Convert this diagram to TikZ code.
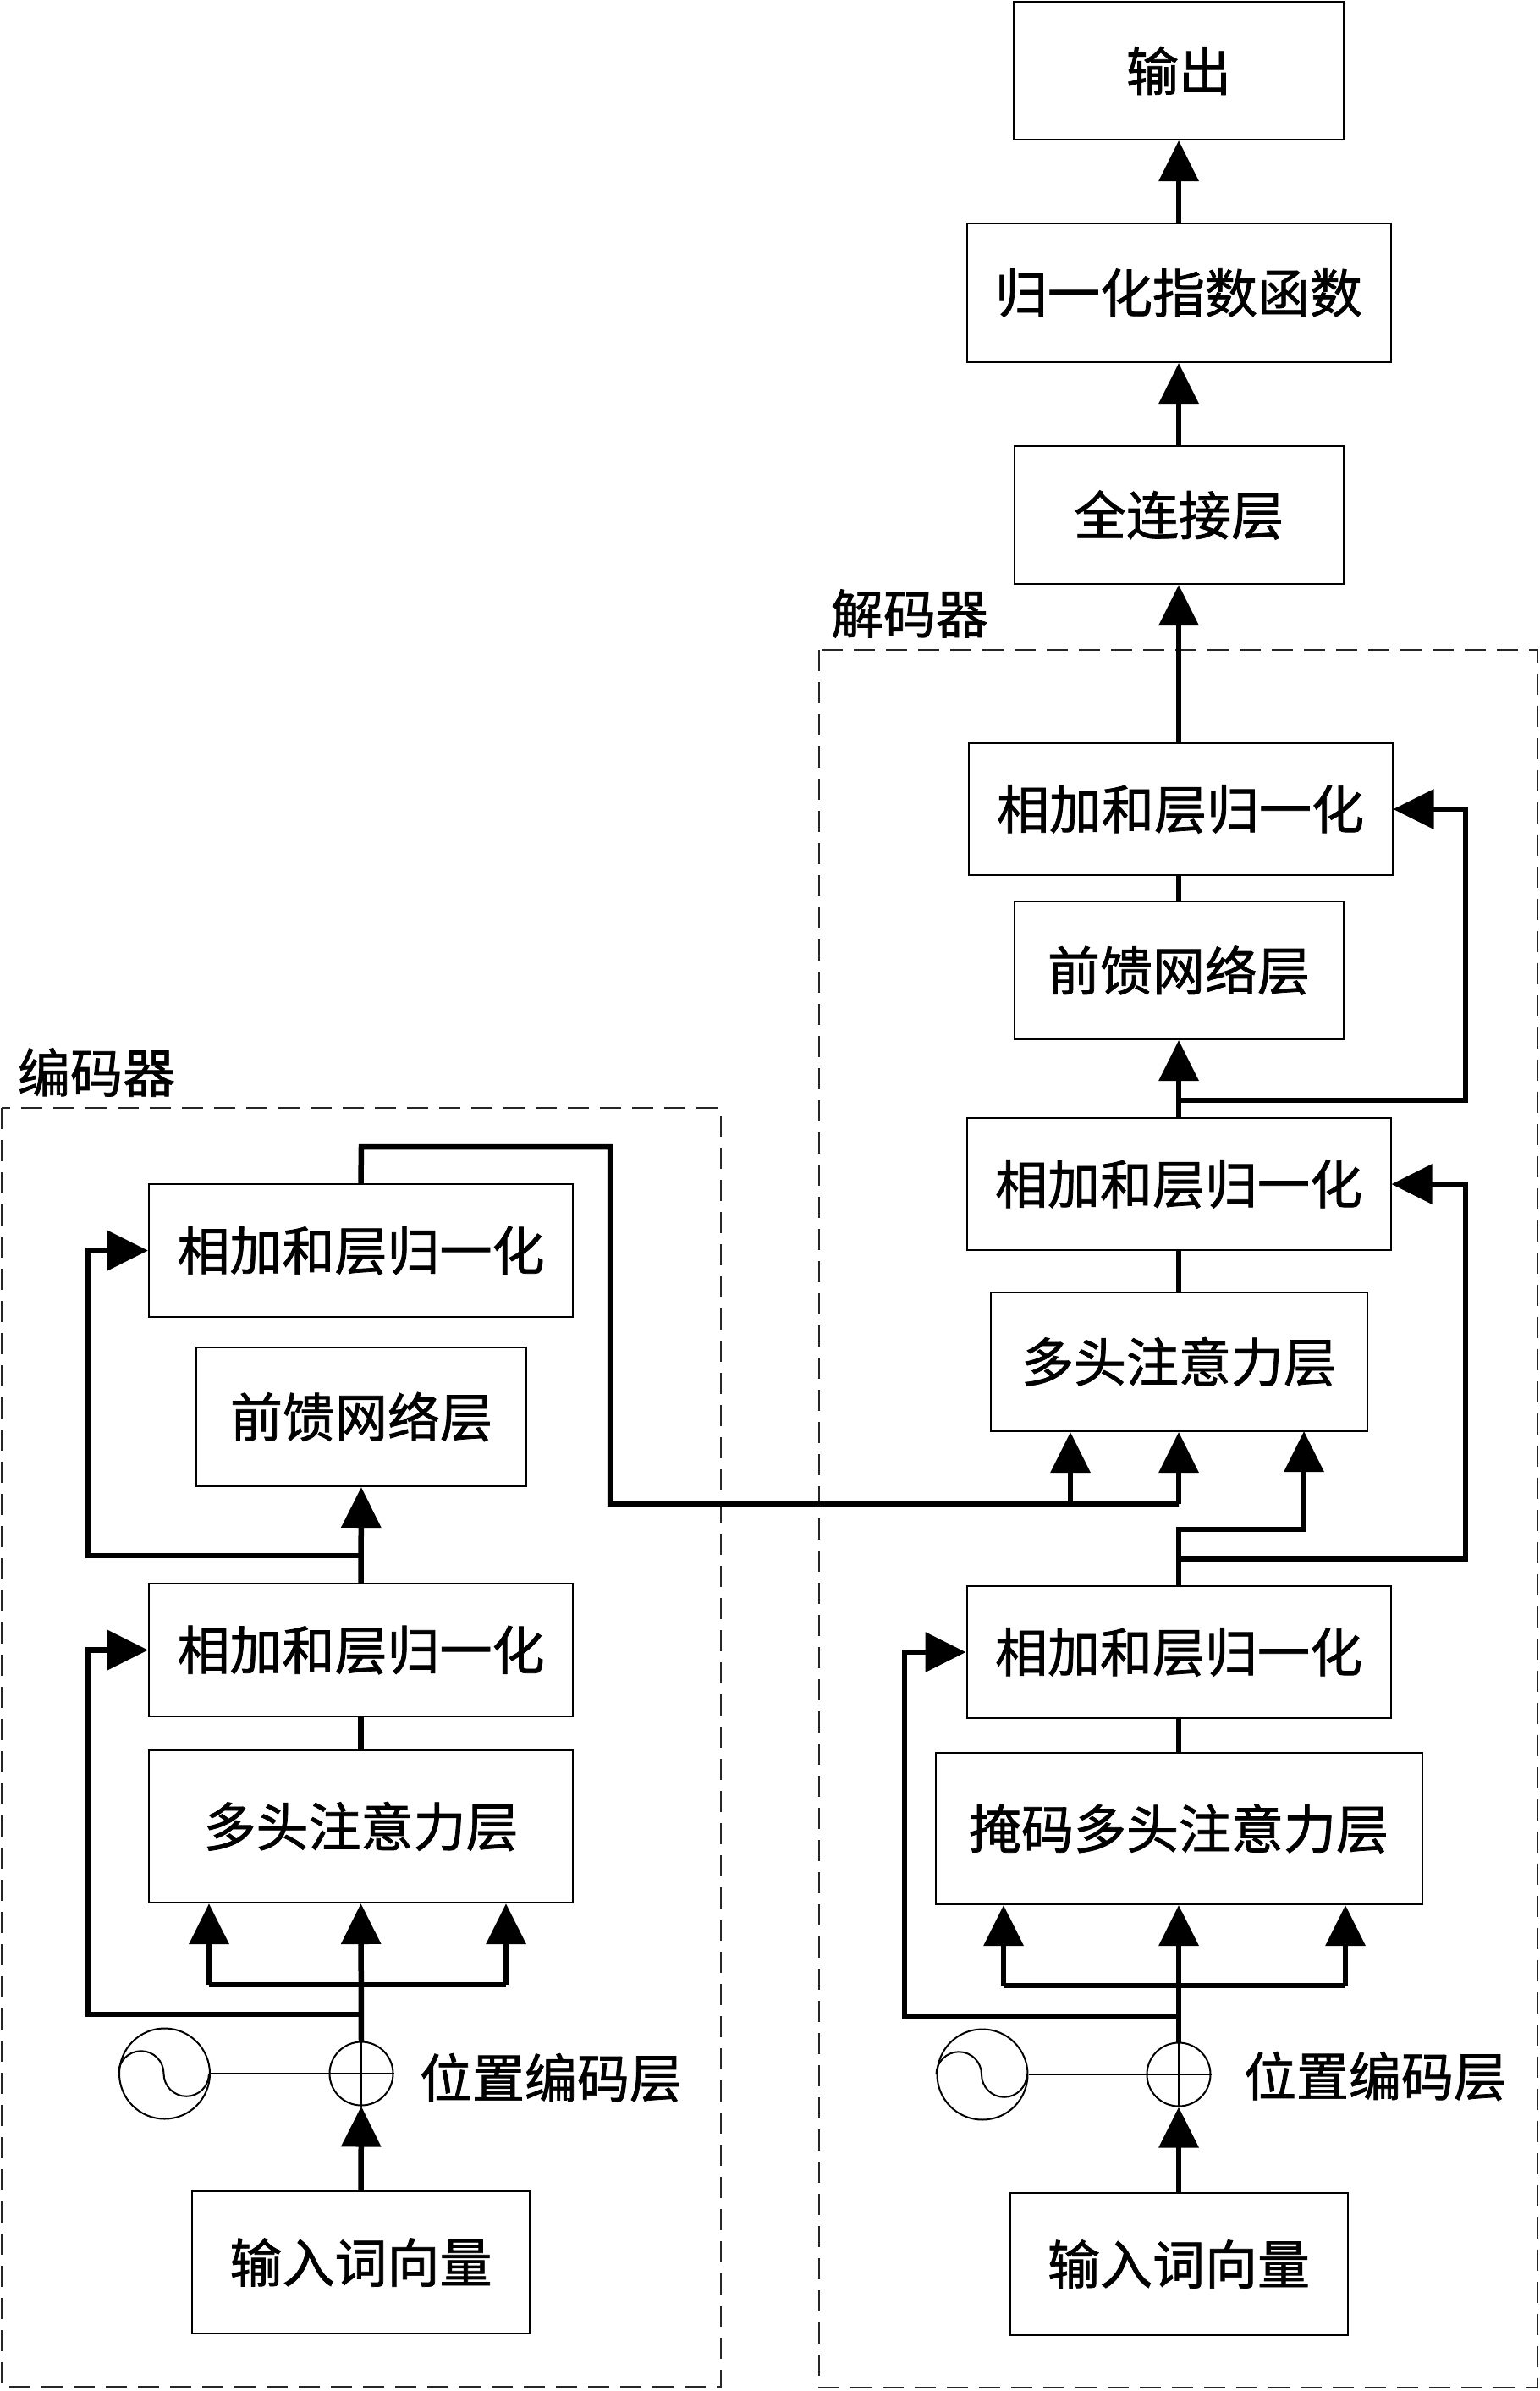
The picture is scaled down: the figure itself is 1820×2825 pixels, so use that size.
\documentclass[tikz,border=0pt]{standalone}
\usepackage{fontspec}
\newfontfamily\cjk[FakeBold=1.2]{Noto Sans CJK SC}
\usetikzlibrary{arrows.meta}
\begin{document}
\begin{tikzpicture}[x=1pt,y=-1pt,
  box/.style={draw=black, line width=2pt, fill=white, inner sep=0pt, font=\cjk\fontsize{62}{62}\selectfont},
  conn/.style={line width=6.5pt},
  arr/.style={conn, -{Triangle[length=48pt,width=46pt]}},
  thinline/.style={line width=2.6pt},
  ring/.style={circle, draw=black, line width=2pt, inner sep=0pt},
  lbl/.style={inner sep=0pt, font=\cjk\fontsize{62}{62}\selectfont},
  group/.style={dash pattern=on 25pt off 13pt, line width=2pt, draw=black!85}
]
\useasboundingbox (0,0) rectangle (1820,2825);

% groups
\draw[group] (2,1309) rectangle (852,2820);
\draw[group] (968,768) rectangle (1817,2821);
\node[lbl] (enclbl) at (114,1267) {编码器};
\node[lbl] (declbl) at (1075,725) {解码器};

% encoder nodes
\node[box, minimum width=501pt, minimum height=157pt] (ea1) at (426.5,1477.5) {相加和层归一化};
\node[box, minimum width=390pt, minimum height=164pt] (eff) at (427,1674) {前馈网络层};
\node[box, minimum width=501pt, minimum height=157pt] (ea2) at (426.5,1949.5) {相加和层归一化};
\node[box, minimum width=501pt, minimum height=180pt] (emha) at (426.5,2158) {多头注意力层};
\node[box, minimum width=399pt, minimum height=168pt] (ein) at (426.5,2673) {输入词向量};
\node[ring, minimum size=107pt] (eosc) at (194.5,2450) {};
\node[ring, minimum size=75pt] (eplus) at (427,2450) {};
\node[lbl] (epos) at (651,2455) {位置编码层};

% decoder nodes
\node[box, minimum width=390pt, minimum height=163pt] (dout) at (1393,83.5) {输出};
\node[box, minimum width=501pt, minimum height=164pt] (dsm) at (1393,346) {归一化指数函数};
\node[box, minimum width=389pt, minimum height=163pt] (dfc) at (1393,608.5) {全连接层};
\node[box, minimum width=501pt, minimum height=156pt] (da1) at (1395,956) {相加和层归一化};
\node[box, minimum width=389pt, minimum height=163pt] (dff) at (1393,1146.5) {前馈网络层};
\node[box, minimum width=501pt, minimum height=156pt] (da2) at (1393,1399) {相加和层归一化};
\node[box, minimum width=445pt, minimum height=164pt] (dmha) at (1393,1609) {多头注意力层};
\node[box, minimum width=501pt, minimum height=156pt] (da3) at (1393,1952) {相加和层归一化};
\node[box, minimum width=575pt, minimum height=179pt] (dmm) at (1393,2160.5) {掩码多头注意力层};
\node[box, minimum width=399pt, minimum height=168pt] (din) at (1393,2675) {输入词向量};
\node[ring, minimum size=107pt] (dosc) at (1161,2451) {};
\node[ring, minimum size=75pt] (dplus) at (1393,2451) {};
\node[lbl] (dpos) at (1625,2453) {位置编码层};

% oscillator curves and plus signs
\foreach \o/\p in {eosc/eplus, dosc/dplus}{
  \draw[line width=2pt] (\o.west) arc[start angle=180,end angle=360,radius=26.75]
                               arc[start angle=180,end angle=0,radius=26.75];
  \draw[thinline] (\p.north) -- (\p.south);
  \draw[thinline] (\o.east) -- (\p.east);
}

% encoder connectors
\coordinate (ebl) at (247,2345);
\coordinate (ebr) at (598,2345);
\coordinate (ers1) at (427,2380);
\coordinate (ers2) at (427,1838);
\draw[arr] (ein.north) -- (eplus.south);
\draw[arr] (eplus.north) -- (emha.south);
\draw[conn] (ebl) -- (ebr);
\draw[arr] (ebl) -- (ebl |- emha.south);
\draw[arr] (ebr) -- (ebr |- emha.south);
\draw[arr] (ers1) -- ++(-323,0) |- (ea2.west);
\draw[conn] (emha.north) -- (ea2.south);
\draw[arr] (ea2.north) -- (eff.south);
\draw[arr] (ers2) -- ++(-323,0) |- (ea1.west);

% encoder to decoder
\coordinate (dcross) at (1393,1777);
\coordinate (dk) at (1265,1777);
\draw[conn] (ea1.north) -- (427,1355) -- (721,1355) -- (721,1777) -- (dcross);
\draw[arr] (dcross) -- (dmha.south);
\draw[arr] (dk) -- (dk |- dmha.south);

% decoder connectors
\coordinate (dbl) at (1186,2346);
\coordinate (dbr) at (1590,2346);
\coordinate (drs3) at (1393,2383);
\coordinate (dq) at (1393,1807);
\coordinate (drs2) at (1393,1842);
\coordinate (drs1) at (1393,1300);
\draw[arr] (din.north) -- (dplus.south);
\draw[arr] (dplus.north) -- (dmm.south);
\draw[conn] (dbl) -- (dbr);
\draw[arr] (dbl) -- (dbl |- dmm.south);
\draw[arr] (dbr) -- (dbr |- dmm.south);
\draw[arr] (drs3) -- ++(-324,0) |- (da3.west);
\draw[conn] (dmm.north) -- (da3.south);
\draw[arr] (da3.north) -- (dq) -- ++(148,0) -- ++(0,-116);
\draw[arr] (drs2) -- ++(339,0) |- (da2.east);
\draw[conn] (dmha.north) -- (da2.south);
\draw[arr] (da2.north) -- (dff.south);
\draw[arr] (drs1) -- ++(339,0) |- (da1.east);
\draw[conn] (dff.north) -- (dff.north |- da1.south);
\draw[arr] (da1.south -| dfc.south) ++(0,-156) -- (dfc.south);
\draw[arr] (dfc.north) -- (dsm.south);
\draw[arr] (dsm.north) -- (dout.south);
\end{tikzpicture}
\end{document}
